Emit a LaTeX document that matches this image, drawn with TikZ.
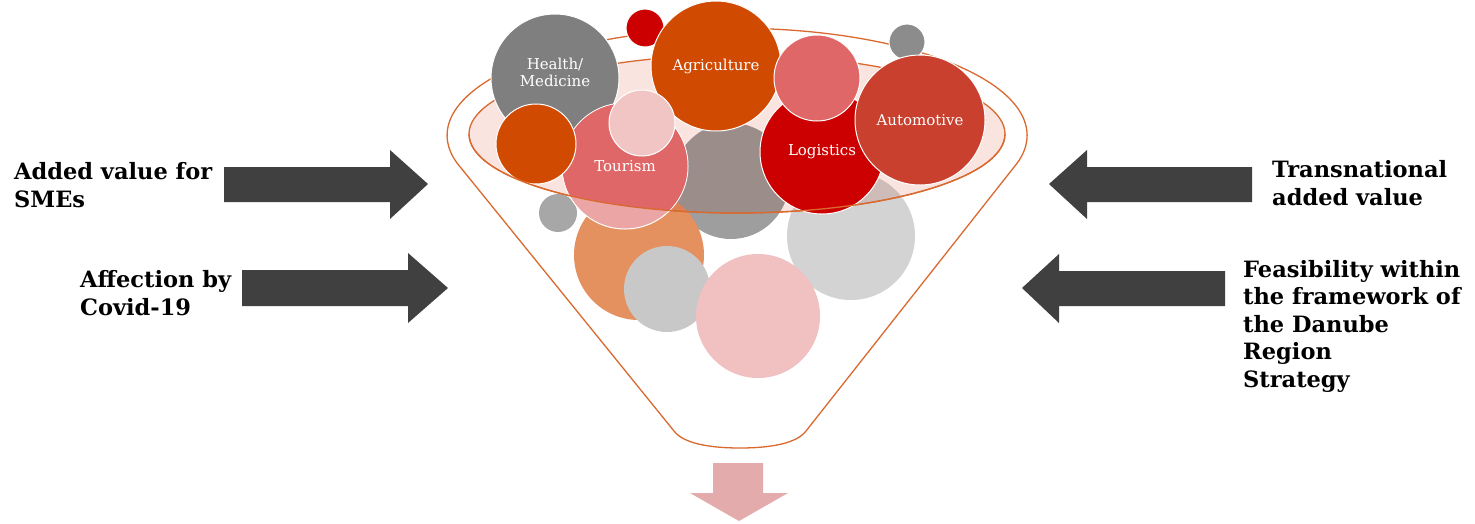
\documentclass[tikz,border=0pt]{standalone}
\usepackage{fontspec}
\setmainfont{DejaVu Serif}

\definecolor{arrowgrey}{HTML}{404040}
\definecolor{rimorange}{HTML}{D9692E}
\definecolor{rimfill}{HTML}{F9E4E0}
\definecolor{pwcorange}{HTML}{D04A02}
\definecolor{pwcred}{HTML}{CC0000}
\definecolor{midgrey}{HTML}{7F7F7F}
\definecolor{slate}{HTML}{8C8C8C}
\definecolor{rose}{HTML}{E06767}
\definecolor{rosefade}{HTML}{EBA5A5}
\definecolor{blush}{HTML}{F2C5C5}
\definecolor{brick}{HTML}{C9402E}
\definecolor{stone}{HTML}{9E9E9E}
\definecolor{silver}{HTML}{D3D3D3}
\definecolor{ash}{HTML}{A7A7A7}
\definecolor{salmon}{HTML}{E4905F}
\definecolor{mist}{HTML}{C8C8C8}
\definecolor{petal}{HTML}{F1C0C0}
\definecolor{dropcol}{HTML}{E3ABAB}

\tikzset{
  ball/.style={circle, inner sep=0pt, minimum size=#1},
  front/.style={draw=white, line width=1pt},
  tag/.style={text=white, font=\fontsize{15}{17}\selectfont, align=center},
  side/.style={font=\bfseries\fontsize{22.5}{27.5}\selectfont, align=left, anchor=base west, inner sep=0pt},
  bigarrow/.style={fill=arrowgrey},
  rim/.style={draw=rimorange, line width=1.3pt},
}

\begin{document}
\begin{tikzpicture}[x=1pt, y=-1pt]
\useasboundingbox (0,0) rectangle (1475,523);

% circles behind the rim
\node[ball=128, fill=silver] (back1) at (851,236) {};
\node[ball=116, fill=stone] (back2) at (731,181) {};
\node[ball=130, fill=salmon] (back3) at (639,255) {};
\node[ball=86, fill=mist] (back4) at (667,289) {};
\node[ball=124, fill=petal] (back5) at (758,316) {};
\node[ball=38, fill=ash] (back6) at (558,213) {};

% funnel
\draw[rim] (457,163) arc[start angle=165, end angle=375, x radius=290, y radius=107]
  -- (806,431) .. controls (797,443) and (772,448) .. (740,448)
  .. controls (708,448) and (683,443) .. (674,431) -- (457,163);
\fill[rimfill, blend mode=multiply] (737,134) ellipse[x radius=268, y radius=79];
\draw[rim] (737,134) ellipse[x radius=268, y radius=79];

% circles in front
\node[ball=128, front, fill=midgrey, label={[tag, yshift=6pt]center:{Health/\\Medicine}}] (health) at (555,78) {};
\node[ball=38, front, fill=pwcred] (dot1) at (645,28) {};
\node[ball=130, front, fill=pwcorange, tag] (agri) at (716,66) {Agriculture};
\node[ball=36, front, fill=slate] (dot2) at (907,42) {};
\node[ball=124, front, fill=pwcred, tag] (logi) at (822,152) {Logistics};
\node[ball=86, front, fill=rose] (pink1) at (817,78) {};
\node[ball=130, front, fill=brick, tag] (auto) at (920,120) {Automotive};
\node[ball=126, front, fill=rosefade] (tour) at (625,166) {};
\begin{scope}
  \clip (737,134) ellipse[x radius=268, y radius=79];
  \fill[rose] (tour.center) circle[radius=62.5];
\end{scope}
\node[tag] (tourtxt) at (tour.center) {Tourism};
\node[ball=80, front, fill=pwcorange] (dot3) at (536,144) {};
\node[ball=66, front, fill=blush] (pink2) at (642,123) {};

% front edge of the rim
\draw[rim] (469,134) arc[start angle=180, end angle=0, x radius=268, y radius=79];

% arrows
\fill[bigarrow] (224,167) -- (390,167) -- (390,150) -- (428,184) -- (390,219) -- (390,202) -- (224,202) -- cycle;
\fill[bigarrow] (242,270) -- (408,270) -- (408,253) -- (448,288) -- (408,323) -- (408,306) -- (242,306) -- cycle;
\fill[bigarrow] (1252,167) -- (1087,167) -- (1087,150) -- (1049,184) -- (1087,219) -- (1087,202) -- (1252,202) -- cycle;
\fill[bigarrow] (1225,271) -- (1059,271) -- (1059,254) -- (1022,288) -- (1059,323) -- (1059,306) -- (1225,306) -- cycle;
\fill[dropcol] (713,463) -- (763,463) -- (763,493) -- (788,493) -- (739,521) -- (690,493) -- (713,493) -- cycle;

% labels (anchored on the last line)
\node[side] (smes) at (14,207) {Added value for\\SMEs};
\node[side] (covid) at (80,315) {Affection by\\Covid-19};
\node[side] (trans) at (1272,205) {Transnational\\added value};
\node[side] (danube) at (1243,387) {Feasibility within\\the framework of\\the Danube\\Region\\Strategy};
\end{tikzpicture}
\end{document}
